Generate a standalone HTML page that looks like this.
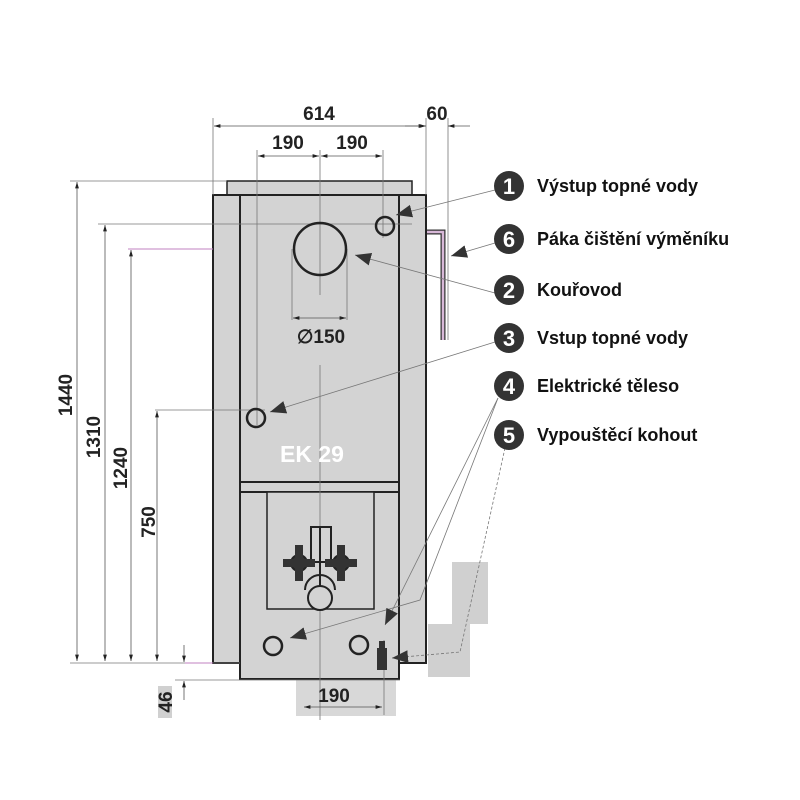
<!DOCTYPE html>
<html><head><meta charset="utf-8"><style>
html,body{margin:0;padding:0;background:#fff}
svg{display:block}
text{font-family:"Liberation Sans",sans-serif;font-weight:bold}
</style></head><body>
<svg width="800" height="800" viewBox="0 0 800 800" xmlns="http://www.w3.org/2000/svg">
<defs>
<marker id="a" viewBox="0 0 10 10" refX="10" refY="5" markerWidth="8" markerHeight="8" orient="auto-start-reverse"><path d="M0,2 L10,5 L0,8z" fill="#222"/></marker>
<marker id="b" viewBox="0 0 10 10" refX="10" refY="5" markerWidth="16" markerHeight="16" orient="auto" markerUnits="userSpaceOnUse"><path d="M0,1 L10,5 L0,9z" fill="#333"/></marker>
</defs>
<rect x="452" y="562" width="36" height="62" fill="#d0d0d0"/>
<rect x="428" y="624" width="42" height="53" fill="#d0d0d0"/>
<rect x="158" y="686" width="14" height="32" fill="#d0d0d0"/>
<rect x="296" y="680" width="100" height="36" fill="#d8d8d8"/>
<rect x="227" y="181" width="185" height="14" fill="#d3d3d3" stroke="#222" stroke-width="1.5"/>
<rect x="213" y="195" width="213" height="468" fill="#d3d3d3" stroke="#222" stroke-width="2"/>
<rect x="240" y="195" width="159" height="484" fill="#d3d3d3" stroke="#222" stroke-width="2"/>
<line x1="240" y1="482" x2="399" y2="482" stroke="#222" stroke-width="2"/>
<line x1="240" y1="492" x2="399" y2="492" stroke="#222" stroke-width="2"/>
<rect x="267" y="492" width="107" height="117" fill="#d3d3d3" stroke="#222" stroke-width="1.5"/>
<g stroke="#777" stroke-width="0.8" fill="none">
<line x1="320" y1="150" x2="320" y2="295"/><line x1="320" y1="365" x2="320" y2="720"/>
<line x1="257" y1="150" x2="257" y2="425"/><line x1="383" y1="150" x2="383" y2="238"/>
<line x1="213" y1="118" x2="213" y2="195"/><line x1="426" y1="118" x2="426" y2="195"/>
<line x1="448" y1="118" x2="448" y2="340"/>
<line x1="292" y1="249" x2="292" y2="320"/><line x1="347" y1="249" x2="347" y2="320"/>
<line x1="70" y1="181" x2="227" y2="181"/><line x1="98" y1="224" x2="412" y2="224"/>
<line x1="155" y1="410" x2="265" y2="410"/><line x1="70" y1="663" x2="240" y2="663"/>
<line x1="175" y1="680" x2="400" y2="680"/><line x1="384" y1="640" x2="384" y2="715"/>
</g>
<line x1="128" y1="249" x2="213" y2="249" stroke="#c080c0" stroke-width="1"/>
<line x1="185" y1="663" x2="213" y2="663" stroke="#c080c0" stroke-width="1"/>
<g stroke="#555" stroke-width="0.8" marker-start="url(#a)" marker-end="url(#a)">
<line x1="214" y1="126" x2="425" y2="126"/>
<line x1="258" y1="156" x2="319" y2="156"/><line x1="321" y1="156" x2="382" y2="156"/>
<line x1="293" y1="318" x2="346" y2="318"/>
<line x1="77" y1="182" x2="77" y2="661"/><line x1="105" y1="225" x2="105" y2="661"/>
<line x1="131" y1="250" x2="131" y2="661"/><line x1="157" y1="411" x2="157" y2="661"/>
<line x1="304" y1="707" x2="382" y2="707"/>
</g>
<g stroke="#555" stroke-width="0.8">
<line x1="405" y1="126" x2="426" y2="126" marker-end="url(#a)"/>
<line x1="470" y1="126" x2="448" y2="126" marker-end="url(#a)"/>
<line x1="184" y1="645" x2="184" y2="662" marker-end="url(#a)"/>
<line x1="184" y1="700" x2="184" y2="681" marker-end="url(#a)"/>
</g>
<g font-size="19" fill="#222" text-anchor="middle">
<text x="319" y="120">614</text><text x="437" y="120">60</text>
<text x="288" y="149">190</text><text x="352" y="149">190</text>
<text x="321" y="343">∅150</text>
<text x="334" y="702">190</text>
<text transform="translate(72,395) rotate(-90)">1440</text>
<text transform="translate(100,437) rotate(-90)">1310</text>
<text transform="translate(127,468) rotate(-90)">1240</text>
<text transform="translate(155,522) rotate(-90)">750</text>
<text transform="translate(172,702) rotate(-90)">46</text>
</g>
<text x="312" y="462" font-size="23" fill="#fff" text-anchor="middle" font-weight="normal">EK 29</text>
<g fill="none" stroke="#222" stroke-width="2.5">
<circle cx="320" cy="249" r="26"/>
<circle cx="385" cy="226" r="9"/><circle cx="256" cy="418" r="9"/>
<circle cx="273" cy="646" r="9"/><circle cx="359" cy="645" r="9"/>
</g>
<path d="M427,232 H443 V340" fill="none" stroke="#333" stroke-width="5"/>
<path d="M427,232 H443 V340" fill="none" stroke="#d8b8d8" stroke-width="2.5"/>
<g stroke="#222" stroke-width="2" fill="none">
<rect x="311" y="527" width="20" height="35"/>
<line x1="320" y1="527" x2="320" y2="610"/>
<circle cx="320" cy="598" r="12" fill="#d3d3d3"/>
<path d="M305,590 A15,15 0 0 1 335,590"/>
<circle cx="299" cy="563" r="8" fill="#333"/><circle cx="341" cy="563" r="8" fill="#333"/>
</g>
<g fill="#333"><rect x="283" y="559" width="32" height="8"/><rect x="325" y="559" width="32" height="8"/>
<rect x="295" y="545" width="8" height="36"/><rect x="337" y="545" width="8" height="36"/></g>
<rect x="377" y="648" width="10" height="22" fill="#333"/><rect x="379" y="641" width="6" height="7" fill="#333"/>
<g stroke="#777" stroke-width="0.8" fill="none">
<line x1="495" y1="190" x2="396" y2="215" marker-end="url(#b)"/>
<line x1="495" y1="243" x2="451" y2="256" marker-end="url(#b)"/>
<line x1="495" y1="293" x2="355" y2="255" marker-end="url(#b)"/>
<line x1="495" y1="342" x2="270" y2="412" marker-end="url(#b)"/>
<path d="M498,398 L420,600 L290,638" marker-end="url(#b)"/>
<path d="M498,398 L385,625" marker-end="url(#b)"/>
<path d="M505,448 L460,652 L392,658" marker-end="url(#b)" stroke-dasharray="3,2"/>
</g>
<g fill="#333">
<circle cx="509" cy="186" r="15"/><circle cx="509" cy="239" r="15"/>
<circle cx="509" cy="290" r="15"/><circle cx="509" cy="338" r="15"/>
<circle cx="509" cy="386" r="15"/><circle cx="509" cy="435" r="15"/>
</g>
<g font-size="22" fill="#fff" text-anchor="middle">
<text x="509" y="194">1</text><text x="509" y="247">6</text><text x="509" y="298">2</text>
<text x="509" y="346">3</text><text x="509" y="394">4</text><text x="509" y="443">5</text>
</g>
<g font-size="18" fill="#111">
<text x="537" y="192">Výstup topné vody</text>
<text x="537" y="245">Páka čištění výměníku</text>
<text x="537" y="296">Kouřovod</text>
<text x="537" y="344">Vstup topné vody</text>
<text x="537" y="392">Elektrické těleso</text>
<text x="537" y="441">Vypouštěcí kohout</text>
</g>
</svg>
</body></html>
